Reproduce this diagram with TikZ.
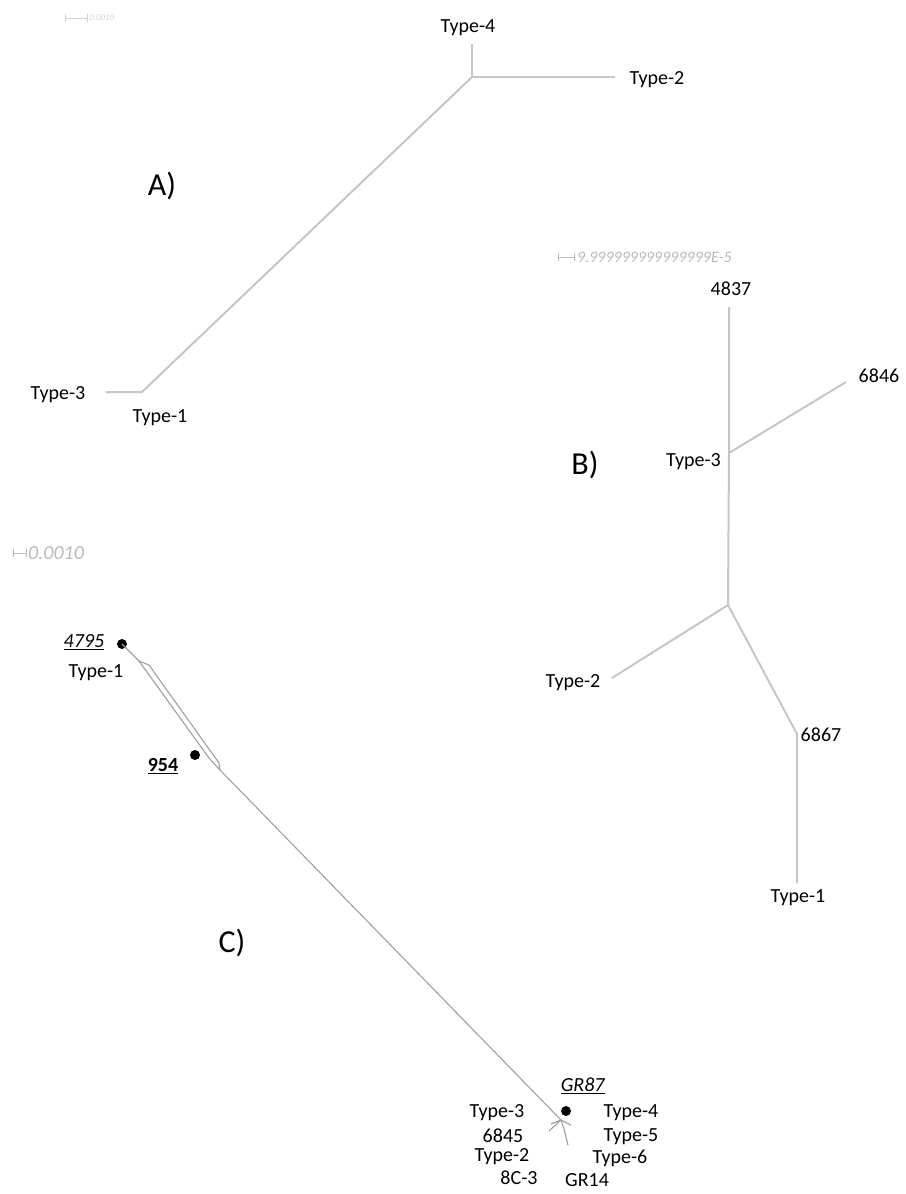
\documentclass[tikz,border=0pt]{standalone}
\usepackage{fontspec}
\setmainfont{Carlito}

\begin{document}
\begin{tikzpicture}[x=1pt,y=-1pt]
  \useasboundingbox (0,0) rectangle (905,1194);

  % scale bars
  \begin{scope}[every node/.style={anchor=west,inner sep=0pt,font=\itshape}]
    \draw[gray!35,line width=0.8pt,|-|] (65,18) -- (88,18);
    \node[text=gray!35,font=\itshape\fontsize{9}{10}\selectfont] (sa) at (89,18) {0.0010};
    \draw[gray!55,line width=0.8pt,|-|] (558,257) -- (575,257);
    \node[text=gray!55,font=\itshape\fontsize{16}{18}\selectfont] (sb) at (577,257) {9.999999999999999E-5};
    \draw[gray!55,line width=0.8pt,|-|] (13,553) -- (27,553);
    \node[text=gray!55,font=\itshape\fontsize{20}{22}\selectfont] (sc) at (28,553) {0.0010};
  \end{scope}

  % tree A
  \coordinate (aj) at (472,77);
  \coordinate (a4) at (472,44);
  \coordinate (a2) at (615,77);
  \coordinate (ak) at (142,392);
  \coordinate (a3) at (106,392);
  % tree B
  \coordinate (b4837) at (729,307);
  \coordinate (bt3) at (729,453);
  \coordinate (b6846) at (846,382);
  \coordinate (bj) at (728,605);
  \coordinate (b2) at (612,678);
  \coordinate (b6867) at (797,734);
  \coordinate (b1) at (797,883);
  \begin{scope}[every path/.style={draw=gray!45,line width=2pt}]
    \path (a4) -- (aj) -- (a2);
    \path (aj) -- (ak) -- (a3);
    \path (b4837) -- (bt3) -- (bj);
    \path (bt3) -- (b6846);
    \path (bj) -- (b2);
    \path (bj) -- (b6867) -- (b1);
  \end{scope}

  % tree C
  \begin{scope}[every node/.style={circle,fill=black,inner sep=0pt,minimum size=10pt}]
    \node (d4795) at (122,644) {};
    \node (d954) at (195,755) {};
    \node (dGR87) at (566,1111) {};
  \end{scope}
  \coordinate (cj1) at (139,661);
  \coordinate (chook) at (149,665);
  \coordinate (clb) at (209,758);
  \coordinate (crb) at (219,763);
  \coordinate (cj2) at (220,770);
  \coordinate (c0) at (561,1120);
  \coordinate (c1) at (551,1124);
  \coordinate (c2) at (549,1131);
  \coordinate (c3) at (564,1129);
  \coordinate (c4) at (568,1145);
  \coordinate (c5) at (571,1125);
  \begin{scope}[every path/.style={draw=gray!75,line width=1.1pt}]
    \path (d4795.center) -- (cj1);
    \path (cj1) -- (clb) -- (cj2);
    \path (cj1) -- (chook) -- (crb) -- (cj2);
    \path (cj2) -- (c0);
    \path (c0) -- (c1);
    \path (c0) -- (c2);
    \path (c0) -- (c3) -- (c4);
    \path (c0) -- (c5);
  \end{scope}

  % labels
  \begin{scope}[every node/.style={inner sep=0pt,font=\fontsize{20}{24}\selectfont}]
    \node (la4) at (468,28) {Type-4};
    \node (la2) at (657,80) {Type-2};
    \node (la3) at (58,395) {Type-3};
    \node (la1) at (160,418) {Type-1};
    \node (lb4837) at (731,289) {4837};
    \node (lb6846) at (879,376) {6846};
    \node[anchor=east] (lb3) at (721,462) {Type-3};
    \node (lb2) at (573,683) {Type-2};
    \node (lb6867) at (821,735) {6867};
    \node (lb1) at (798,898) {Type-1};
    \node (lc4795) at (84,642) {\underline{\textit{4795}}};
    \node (lc1) at (96,673) {Type-1};
    \node (lc954) at (163,766) {\underline{\textbf{954}}};
    \node (lcGR87) at (583,1086) {\underline{\textit{GR87}}};
    \node (lc3) at (497,1113) {Type-3};
    \node (lc6845) at (503,1136) {6845};
    \node (lc2) at (502,1157) {Type-2};
    \node (lc8C3) at (519,1178) {8C-3};
    \node (lc4) at (631,1113) {Type-4};
    \node (lc5) at (631,1137) {Type-5};
    \node (lc6) at (620,1158) {Type-6};
    \node (lcGR14) at (587,1180) {GR14};
  \end{scope}
  \begin{scope}[every node/.style={inner sep=0pt,font=\fontsize{32}{36}\selectfont}]
    \node (pA) at (162,186) {A)};
    \node (pB) at (585,465) {B)};
    \node (pC) at (232,943) {C)};
  \end{scope}
\end{tikzpicture}
\end{document}
